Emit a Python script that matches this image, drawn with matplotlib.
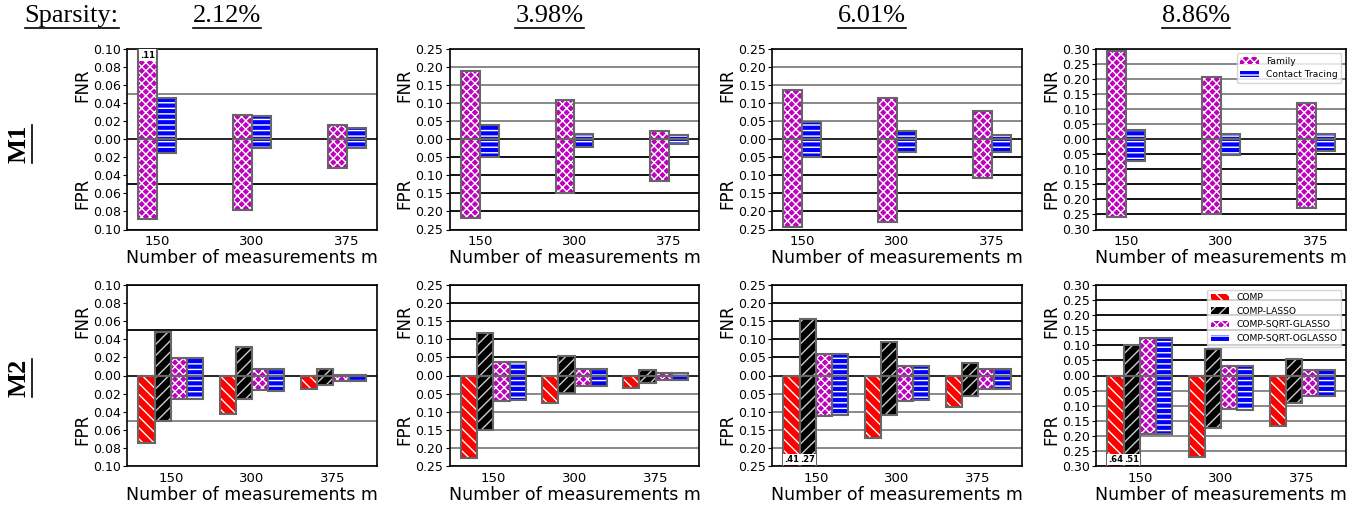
import numpy as np
import matplotlib
matplotlib.use('Agg')
import matplotlib.pyplot as plt
from matplotlib.lines import Line2D
from matplotlib.ticker import FuncFormatter

# column headers / x categories
sparsity = ['2.12%', '3.98%', '6.01%', '8.86%']
m_values = ['150', '300', '375']
ylims = [0.10, 0.25, 0.25, 0.30]

# M1: Family vs Contact Tracing (one list per sparsity column, values for m = 150, 300, 375)
fam_fnr = [[0.11, 0.026, 0.015], [0.189, 0.108, 0.021], [0.136, 0.112, 0.076], [0.293, 0.206, 0.119]]
fam_fpr = [[0.088, 0.078, 0.032], [0.217, 0.148, 0.115], [0.244, 0.229, 0.109], [0.257, 0.248, 0.229]]
ct_fnr = [[0.045, 0.025, 0.012], [0.039, 0.015, 0.012], [0.047, 0.022, 0.012], [0.029, 0.016, 0.016]]
ct_fpr = [[0.015, 0.010, 0.010], [0.049, 0.022, 0.013], [0.050, 0.035, 0.035], [0.072, 0.054, 0.041]]

# M2: four methods
comp_fnr = [[0.0, 0.0, 0.0], [0.0, 0.0, 0.0], [0.0, 0.0, 0.0], [0.0, 0.0, 0.0]]
comp_fpr = [[0.075, 0.0425, 0.015], [0.229, 0.077, 0.035], [0.41, 0.174, 0.087], [0.64, 0.271, 0.167]]
lasso_fnr = [[0.048, 0.032, 0.007], [0.117, 0.053, 0.014], [0.156, 0.092, 0.034], [0.100, 0.089, 0.055]]
lasso_fpr = [[0.050, 0.026, 0.010], [0.151, 0.048, 0.021], [0.27, 0.108, 0.057], [0.51, 0.175, 0.092]]
glasso_fnr = [[0.019, 0.0075, 0.001], [0.037, 0.019, 0.006], [0.059, 0.025, 0.017], [0.125, 0.030, 0.019]]
glasso_fpr = [[0.026, 0.016, 0.006], [0.070, 0.028, 0.012], [0.113, 0.070, 0.036], [0.195, 0.110, 0.067]]
oglasso_fnr = [[0.019, 0.0075, 0.001], [0.037, 0.018, 0.006], [0.060, 0.025, 0.017], [0.125, 0.031, 0.019]]
oglasso_fpr = [[0.026, 0.017, 0.006], [0.068, 0.028, 0.012], [0.108, 0.068, 0.036], [0.195, 0.114, 0.067]]

m1_series = [('Family', fam_fnr, fam_fpr, 'm', 'xxxx', 'white'),
             ('Contact Tracing', ct_fnr, ct_fpr, 'blue', '---', 'white')]
m2_series = [('COMP', comp_fnr, comp_fpr, 'red', '\\\\\\', 'white'),
             ('COMP-LASSO', lasso_fnr, lasso_fpr, 'black', '///', '0.8'),
             ('COMP-SQRT-GLASSO', glasso_fnr, glasso_fpr, 'm', 'xxxx', 'white'),
             ('COMP-SQRT-OGLASSO', oglasso_fnr, oglasso_fpr, 'blue', '---', 'white')]

W, H = 1369, 505
fig = plt.figure(figsize=(W / 100, H / 100), dpi=100)

lefts = [127, 449.5, 772, 1096]
tops = [48.5, 285]
ax_w, ax_h = 250, 181
width = 0.2


def panel(ax, series, col, pos_line_col, neg_line_col, show_legend):
    lim = ylims[col]
    x = np.arange(len(m_values))
    n = len(series)
    handles = []
    for k, (name, fnr, fpr, face, hatch, hcol) in enumerate(series):
        xs = x + (k - (n - 1) / 2) * width
        up = np.array(fnr[col])
        down = -np.array(fpr[col])
        for vals in (up, down):
            b = ax.bar(xs, vals, width=width, color=face, edgecolor=hcol, hatch=hatch, lw=0, zorder=2)
            ax.bar(xs, vals, width=width, fill=False, edgecolor='0.4', lw=1.5, zorder=3)
            if vals is up:
                handles.append(b)
        # values that run off the axis get a small label
        for xi, v in zip(xs, up):
            if v > lim:
                ax.annotate(f'{v:.2f}'[1:], (xi, lim), xytext=(0, -1.5), textcoords='offset points',
                            ha='center', va='top', fontsize=6, fontweight='bold', zorder=6,
                            bbox=dict(facecolor='white', edgecolor='none', pad=0.8))
        for xi, v in zip(xs, -down):
            if v > lim:
                ax.annotate(f'{v:.2f}'[1:], (xi, -lim), xytext=(0, 1.5), textcoords='offset points',
                            ha='center', va='bottom', fontsize=6, fontweight='bold', zorder=6,
                            bbox=dict(facecolor='white', edgecolor='none', pad=0.8))

    for v in np.linspace(-lim, lim, int(round(2 * lim / 0.05)) + 1):
        if abs(v) < 1e-9:
            ax.axhline(0, color='black', lw=1.2, zorder=1.5)
        else:
            ax.axhline(v, color=pos_line_col if v > 0 else neg_line_col, lw=1.3, zorder=1)

    ax.set_ylim(-lim, lim)
    step = 0.02 if lim <= 0.1 else 0.05
    ax.set_yticks(np.linspace(-lim, lim, int(round(2 * lim / step)) + 1))
    ax.yaxis.set_major_formatter(FuncFormatter(lambda v, p: f'{abs(v):.2f}'))
    ax.set_xticks(x)
    ax.set_xticklabels(m_values)
    ax.tick_params(axis='y', labelsize=9, length=3, pad=1.5)
    ax.tick_params(axis='x', labelsize=9.5, length=0, pad=4)
    ax.set_xlabel('Number of measurements m', fontsize=12.5, labelpad=1)
    for s in ax.spines.values():
        s.set_linewidth(1.2)
    ax.text(-0.18, 0.8, 'FNR', transform=ax.transAxes, rotation=90, ha='center', va='center', fontsize=12)
    ax.text(-0.18, 0.2, 'FPR', transform=ax.transAxes, rotation=90, ha='center', va='center', fontsize=12)
    if show_legend:
        ax.legend(handles, [s[0] for s in series], loc='upper right', fontsize=6.6)


for col in range(4):
    for row, (series, pc, nc) in enumerate([(m1_series, '0.5', 'black'), (m2_series, 'black', '0.5')]):
        ax = fig.add_axes([lefts[col] / W, 1 - (tops[row] + ax_h) / H, ax_w / W, ax_h / H])
        panel(ax, series, col, pc, nc, col == 3)

serif = 'Liberation Serif'
heads = [fig.text(71.5 / W, 1 - 16 / H, 'Sparsity:', family=serif, fontsize=19, ha='center', va='center')]
for col, s in enumerate(sparsity):
    heads.append(fig.text((lefts[col] + 100) / W, 1 - 16 / H, s, family=serif, fontsize=19,
                          ha='center', va='center'))
rows = [fig.text(19 / W, 1 - 144 / H, 'M1', family=serif, fontsize=19, fontweight='bold',
                 rotation=90, ha='center', va='center'),
        fig.text(19 / W, 1 - 378 / H, 'M2', family=serif, fontsize=19, fontweight='bold',
                 rotation=90, ha='center', va='center')]

# underline the headers
fig.canvas.draw()
inv = fig.transFigure.inverted()
for t in heads:
    bb = t.get_window_extent().transformed(inv)
    fig.add_artist(Line2D([bb.x0, bb.x1], [bb.y0 - 0.6 / H, bb.y0 - 0.6 / H], color='black', lw=1.2))
for t in rows:
    bb = t.get_window_extent().transformed(inv)
    fig.add_artist(Line2D([bb.x1 + 1 / W, bb.x1 + 1 / W], [bb.y0, bb.y1], color='black', lw=1.2))

fig.savefig('out.png', dpi=100)
